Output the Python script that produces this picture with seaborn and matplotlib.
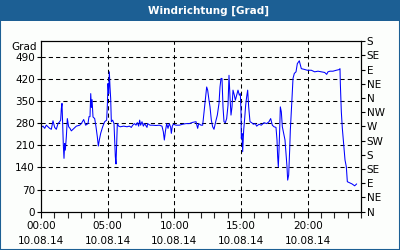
import matplotlib
matplotlib.use("Agg")
import matplotlib.pyplot as plt
import seaborn as sns
import pandas as pd
from matplotlib.patches import Rectangle

# ---- data (hours after 00:00 on 10.08.14, wind direction in degrees) ----
hours = [0.00, 0.15, 0.275, 0.40, 0.525, 0.65, 0.775, 0.90, 1.025, 1.15, 1.275, 1.40, 1.475,
         1.525, 1.575, 1.625, 1.675, 1.725, 1.775, 1.825, 1.90, 1.975, 2.075, 2.175, 2.275,
         2.475, 2.65, 2.90, 3.025, 3.20, 3.35, 3.525, 3.60, 3.675, 3.73, 3.78, 3.83, 3.90,
         4.025, 4.125, 4.225, 4.30, 4.375, 4.475, 4.625, 4.775, 4.925, 4.975, 5.025, 5.075,
         5.125, 5.175, 5.225, 5.275, 5.375, 5.475, 5.525, 5.575, 5.625, 5.675, 5.725, 5.825,
         5.95, 6.20, 6.45, 6.625, 6.775, 6.875, 7.025, 7.125, 7.225, 7.325, 7.40, 7.475,
         7.575, 7.675, 7.775, 7.95, 8.00, 8.175, 8.375, 8.625, 8.875, 9.075, 9.175, 9.25,
         9.325, 9.425, 9.525, 9.625, 9.725, 9.775, 9.85, 9.925, 10.125, 10.375, 10.625,
         10.875, 11.125, 11.375, 11.625, 11.75, 11.825, 12.00, 12.125, 12.30, 12.425, 12.50,
         12.60, 12.675, 12.775, 12.875, 12.975, 13.10, 13.225, 13.35, 13.425, 13.50, 13.575,
         13.65, 13.725, 13.825, 13.925, 14.025, 14.10, 14.175, 14.25, 14.325, 14.40, 14.50,
         14.575, 14.675, 14.775, 14.875, 14.95, 15.00, 15.025, 15.075, 15.125, 15.20, 15.275,
         15.35, 15.425, 15.50, 15.575, 15.675, 15.80, 15.925, 16.075, 16.175, 16.35, 16.525,
         16.725, 16.925, 17.10, 17.225, 17.35, 17.475, 17.625, 17.70, 17.75, 17.80, 17.85,
         17.90, 17.95, 18.025, 18.10, 18.225, 18.30, 18.375, 18.45, 18.50, 18.575, 18.65,
         18.70, 18.75, 18.825, 18.90, 19.00, 19.125, 19.225, 19.375, 19.425, 19.525, 19.725,
         19.975, 20.275, 20.525, 20.775, 21.025, 21.275, 21.425, 21.525, 21.675, 21.90,
         22.15, 22.35, 22.425, 22.45, 22.525, 22.60, 22.70, 22.80, 22.90, 22.975, 23.125,
         23.325, 23.525, 23.675]
degrees = [267, 271, 264, 274, 269, 264, 261, 288, 267, 261, 279, 285, 290,
           327, 343, 279, 211, 169, 216, 195, 237, 295, 269, 264, 256,
           264, 271, 274, 279, 292, 274, 279, 301, 301, 374, 330, 355, 300,
           295, 269, 237, 208, 227, 248, 269, 285, 290, 337, 406, 374,
           443, 395, 359, 285, 290, 279, 227, 174, 151, 216, 279, 271,
           269, 271, 269, 271, 267, 274, 279, 274, 282, 271, 290, 274,
           285, 271, 279, 267, 279, 274, 274, 273, 274, 271, 253, 227,
           253, 279, 264, 279, 267, 248, 271, 277, 274, 274, 277,
           279, 279, 283, 285, 264, 279, 274, 274, 343, 395, 385,
           353, 332, 290, 269, 261, 285, 306, 343, 395, 422, 422,
           332, 285, 282, 295, 337, 432, 364, 306, 332, 385, 369,
           353, 369, 385, 369, 374, 316, 232, 248, 190, 258, 295,
           337, 364, 385, 332, 285, 282, 277, 279, 271, 277, 274,
           282, 279, 285, 295, 274, 269, 267, 227, 174, 142, 195,
           258, 332, 316, 269, 243, 227, 185, 142, 100, 116, 195,
           258, 301, 359, 422, 438, 443, 469, 478, 469, 453, 451,
           448, 448, 443, 445, 443, 441, 435, 443, 445, 445,
           448, 450, 453, 406, 316, 264, 216, 164, 142, 95, 92,
           88, 82, 88]

title = "Windrichtung [Grad]"
y_label = "Grad"
left_ticks = [0, 70, 140, 210, 280, 350, 420, 490]
right_ticks = [0, 45, 90, 135, 180, 225, 270, 315, 360, 405, 450, 495, 540]
right_labels = ["N", "NE", "E", "SE", "S", "SW", "W", "NW", "N", "NE", "E", "SE", "S"]
x_major = [0, 5, 10, 15, 20]
x_labels = ["00:00\n10.08.14", "05:00\n10.08.14", "10:00\n10.08.14",
            "15:00\n10.08.14", "20:00\n10.08.14"]

df = pd.DataFrame({"h": hours, "deg": degrees})

sns.set_style("ticks")
plt.rcParams["font.family"] = ["DejaVu Sans"]

BLUE_BAR = "#1c5f94"
BG = "#fcfefc"

fig = plt.figure(figsize=(4.0, 2.5), dpi=100)
fig.patch.set_facecolor(BG)
# frame + title bar
fig.patches.append(Rectangle((0, 0), 1, 1, transform=fig.transFigure, fill=False,
                             edgecolor=BLUE_BAR, linewidth=1.5, zorder=0))
fig.patches.append(Rectangle((0, 1 - 21 / 250), 1, 21 / 250, transform=fig.transFigure,
                             facecolor=BLUE_BAR, edgecolor="none", zorder=1))
fig.text(0.522, 1 - 10.5 / 250, title, color="white", fontsize=7.5, fontweight="bold",
         ha="center", va="center")

ax = fig.add_axes([41 / 400, 38.3 / 250, 320 / 400, 170.5 / 250])
ax.set_facecolor(BG)
sns.lineplot(data=df, x="h", y="deg", ax=ax, color="#0000ff", linewidth=0.75)

ax.set_xlim(0, 24)
ax.set_ylim(0, 540)
ax.set_xlabel("")
ax.set_ylabel("")
ax.set_yticks(left_ticks)
ax.set_yticklabels([str(v) for v in left_ticks])
ax.set_xticks(x_major)
ax.set_xticklabels(x_labels, linespacing=1.55)
ax.set_xticks(list(range(0, 25)), minor=True)

for v in left_ticks[1:]:
    ax.axhline(v, color="black", linestyle=(0, (4, 3)), linewidth=0.75, zorder=0)
for v in x_major[1:]:
    ax.axvline(v, color="black", linestyle=(0, (4, 3)), linewidth=0.75, zorder=0)

for s in ax.spines.values():
    s.set_color("black")
    s.set_linewidth(0.8)

ax.tick_params(axis="y", which="major", length=3, width=0.8, pad=1.5, labelsize=7.5,
               colors="black")
ax.tick_params(axis="x", which="major", length=4, width=0.8, pad=3, labelsize=7.5,
               colors="black")
ax.tick_params(axis="x", which="minor", length=4, width=0.8)

ax.text(-0.012, 0.995, y_label, transform=ax.transAxes, ha="right", va="top",
        fontsize=7.5, color="black")

ax2 = ax.twinx()
ax2.set_ylim(0, 540)
ax2.set_yticks(right_ticks)
ax2.set_yticklabels(right_labels)
ax2.tick_params(axis="y", length=3, width=0.8, pad=1, labelsize=7.5, colors="black")
for s in ax2.spines.values():
    s.set_color("black")
    s.set_linewidth(0.8)

fig.savefig("out.png", dpi=100, facecolor=BG)
